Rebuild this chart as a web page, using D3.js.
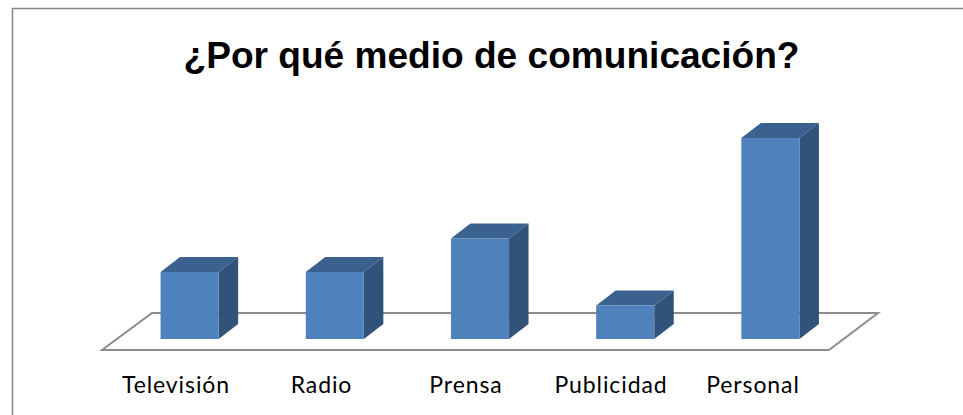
<!DOCTYPE html>
<html><head><meta charset="utf-8">
<script src="https://cdnjs.cloudflare.com/ajax/libs/d3/7.8.5/d3.min.js"></script>
<style>html,body{margin:0;padding:0;background:#fff}svg{display:block}</style></head>
<body><svg id="c" width="963" height="415"></svg>
<script>
const categories = ["Televisión","Radio","Prensa","Publicidad","Personal"];
const values = [2,2,3,1,6];
const chartTitle = "¿Por qué medio de comunicación?";
const labelCenters = [176,321.5,466,611,753];

const svg = d3.select("#c");
const dx = 19.5, dy = -15;
const x = d3.scaleBand().domain(categories).range([117, 843]).paddingInner(0.6).paddingOuter(0.3);
const y = d3.scaleLinear().domain([0,6]).range([339,138]);

svg.append("path").attr("d","M12.5,415V8.5H963").attr("fill","none").attr("stroke","#868686").attr("stroke-width",1.5);

svg.append("text").attr("x",491.5).attr("y",68).attr("text-anchor","middle")
  .attr("font-family","'Liberation Sans',Arial,sans-serif").attr("font-weight","bold").attr("font-size",37.1).attr("fill","#000").text(chartTitle);

const fy = 350, by = 313;
svg.append("path").attr("d",`M102,${fy}H829L878,${by}H152Z`).attr("fill","#fff").attr("stroke","#8c8c8c").attr("stroke-width",2);

const g = svg.selectAll("g.bar").data(categories).join("g").attr("class","bar");
g.each(function(c,i){
  const s = d3.select(this), x0 = x(c), x1 = x0 + x.bandwidth(), t = y(values[i]), b = y(0);
  s.append("path").attr("d",`M${x0},${t}L${x0+dx},${t+dy}H${x1+dx}L${x1},${t}Z`).attr("fill","#3b618f");
  s.append("path").attr("d",`M${x1},${t}L${x1+dx},${t+dy}V${b+dy}L${x1},${b}Z`).attr("fill","#325379");
  s.append("rect").attr("x",x0).attr("y",t).attr("width",x.bandwidth()).attr("height",b-t).attr("fill","#4f81bd");
});

svg.selectAll("text.lab").data(categories).join("text").attr("class","lab")
  .attr("x",(d,i)=>labelCenters[i]).attr("y",393).attr("text-anchor","middle")
  .attr("font-family","Lato,sans-serif").attr("font-size",23).attr("letter-spacing",0.9).attr("fill","#000").text(d=>d);
</script></body></html>
